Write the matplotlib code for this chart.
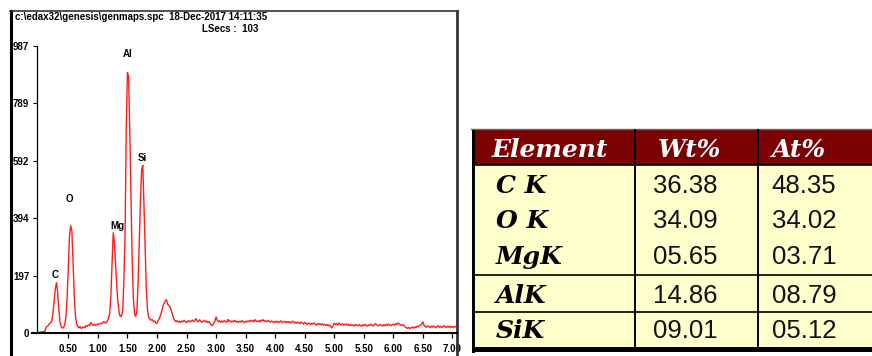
import numpy as np
import matplotlib
matplotlib.use("Agg")
import matplotlib.pyplot as plt
from matplotlib.patches import Rectangle
from matplotlib.lines import Line2D

# ---------------------------------------------------------------- data
# EDS spectrum, counts per 0.02 keV channel starting at 0 keV
channel_width_kev = 0.02
counts = [
    3, 4, 4, 5, 5, 6, 18, 24, 27, 33,
    36, 42, 70, 110, 152, 175, 138, 76, 40, 22,
    18, 20, 30, 58, 125, 230, 335, 370, 350, 245,
    130, 60, 32, 24, 18, 24, 16, 20, 22, 19,
    26, 24, 28, 27, 38, 30, 28, 31, 27, 30,
    32, 31, 34, 33, 36, 40, 37, 36, 42, 52,
    68, 130, 235, 346, 310, 232, 160, 105, 70, 57,
    60, 75, 180, 340, 700, 895, 880, 690, 470, 260,
    120, 68, 57, 75, 170, 310, 450, 560, 577, 440,
    290, 150, 80, 55, 50, 45, 47, 40, 42, 36,
    34, 44, 50, 62, 75, 92, 103, 110, 116, 100,
    96, 90, 80, 66, 52, 44, 40, 43, 38, 41,
    37, 42, 39, 45, 40, 36, 41, 44, 38, 42,
    46, 40, 44, 51, 43, 39, 47, 42, 38, 41,
    44, 39, 42, 37, 40, 34, 28, 26, 35, 41,
    57, 45, 40, 43, 38, 42, 39, 44, 40, 37,
    48, 41, 43, 38, 42, 40, 45, 39, 41, 37,
    42, 38, 44, 40, 36, 41, 39, 43, 40, 44,
    41, 45, 39, 47, 42, 40, 44, 38, 46, 42,
    47, 40, 43, 39, 44, 41, 38, 42, 40, 37,
    41, 38, 42, 36, 40, 43, 37, 39, 41, 36,
    40, 37, 41, 35, 39, 42, 36, 38, 34, 39,
    36, 33, 38, 35, 32, 37, 34, 31, 35, 33,
    30, 34, 32, 36, 31, 28, 33, 30, 34, 29,
    32, 28, 31, 27, 30, 25, 29, 24, 18, 26,
    35, 30, 33, 28, 36, 31, 29, 33, 27, 30,
    32, 28, 31, 26, 30, 27, 29, 25, 30, 28,
    26, 30, 27, 24, 29, 26, 31, 27, 25, 29,
    27, 31, 28, 25, 30, 33, 29, 27, 26, 30,
    28, 25, 29, 26, 30, 27, 32, 28, 26, 29,
    31, 28, 33, 30, 36, 32, 29, 27, 30, 26,
    22, 19, 17, 20, 16, 19, 21, 18, 22, 20,
    24, 22, 26, 28, 31, 40, 27, 24, 21, 25,
    23, 20, 24, 21, 25, 22, 19, 23, 26, 21,
    24, 20, 23, 26, 22, 19, 25, 21, 24, 20,
    23, 19, 24, 22,
]

full_scale = 987
y_tick_labels = ["0", "197", "394", "592", "789", "987"]
x_ticks = [0.5, 1.0, 1.5, 2.0, 2.5, 3.0, 3.5, 4.0, 4.5, 5.0, 5.5, 6.0, 6.5, 7.0]
x_tick_labels = ["0.50", "1.00", "1.50", "2.00", "2.50", "3.00", "3.50",
                 "4.00", "4.50", "5.00", "5.50", "6.00", "6.50", "7.00"]

peak_names = ["C", "O", "Mg", "Al", "Si"]

file_label = "c:\\edax32\\genesis\\genmaps.spc  18-Dec-2017 14:11:35"
live_secs = 103

table_elements = ["C K", "O K", "MgK", "AlK", "SiK"]
table_wt = [36.38, 34.09, 5.65, 14.86, 9.01]
table_at = [48.35, 34.02, 3.71, 8.79, 5.12]
table_headers = ["Element", "Wt%", "At%"]

# ---------------------------------------------------------------- figure
W, H = 872, 356
DPI = 100
fig = plt.figure(figsize=(W / DPI, H / DPI), dpi=DPI)
fig.patch.set_facecolor("white")

SANS = "Liberation Sans"
SERIF = "DejaVu Serif"


def fx(px):
    return px / W


def fy(py):
    return 1 - py / H


# spectrum axes in pixel placement
ax_l, ax_r, ax_t, ax_b = 37, 456, 45.5, 333.3
ax = fig.add_axes([fx(ax_l), fy(ax_b), fx(ax_r - ax_l), (ax_b - ax_t) / H])
px_per_kev = 59.08
e0_px = 38.8
ax.set_xlim((ax_l - e0_px) / px_per_kev, (ax_r - e0_px) / px_per_kev)
ax.set_ylim(0, full_scale)

energy = np.arange(len(counts)) * channel_width_kev
ax.plot(energy, counts, color="#ff1c1c", lw=1.0, solid_joinstyle="miter")

for s in ("top", "right", "bottom"):
    ax.spines[s].set_visible(False)
ax.spines["left"].set_linewidth(0.9)
ax.spines["left"].set_color("black")

ax.set_yticks([full_scale * k / 5 for k in range(6)])
ax.set_yticklabels(y_tick_labels)
ax.set_xticks(x_ticks)
ax.set_xticklabels(x_tick_labels)
ax.tick_params(axis="y", direction="out", length=3.0, width=0.8, pad=2.5,
               labelsize=7)
ax.tick_params(axis="x", direction="out", length=3.6, width=0.9, pad=4.4,
               labelsize=7)
for lab in ax.get_xticklabels() + ax.get_yticklabels():
    lab.set_fontfamily(SANS)
    lab.set_fontweight("bold")
ax.patch.set_visible(False)

# peak markers
label_spots = {"C": (0.274, 200), "O": (0.516, 461), "Mg": (1.325, 369),
               "Al": (1.51, 958), "Si": (1.76, 601)}
for name in peak_names:
    ex, cy = label_spots[name]
    ax.text(ex, cy, name, ha="center", va="center", fontsize=7,
            fontweight="bold", family=SANS, color="black")

# overlay in pixel coordinates for frame, header text and the table
ov = fig.add_axes([0, 0, 1, 1])
ov.set_xlim(0, W)
ov.set_ylim(H, 0)
ov.axis("off")
ov.patch.set_visible(False)

# panel frame
ov.add_line(Line2D([11, 11], [10.5, H + 2], color="black", lw=2.2))
ov.add_line(Line2D([10, 458], [11.3, 11.3], color="#222222", lw=1.1))
ov.add_line(Line2D([457.3, 457.3], [10.5, H + 2], color="#333333", lw=2.0))
# horizontal energy axis
ov.add_line(Line2D([32, 457], [ax_b, ax_b], color="black", lw=1.5))

ov.text(14.5, 19.5, file_label, ha="left", va="baseline", fontsize=7,
        fontweight="bold", family=SANS)
ov.text(202, 32.5, f"LSecs :  {live_secs}", ha="left", va="baseline",
        fontsize=7, fontweight="bold", family=SANS)

# ---------------------------------------------------------------- table
t_left, t_right = 475, W + 2
t_top, head_bot, body_bot = 130, 165, 347
row_mid = [183.5, 218.5, 255, 293.5, 328.5]
col_sep = [635, 758]
row_rules = [275, 312.3]

ov.add_patch(Rectangle((t_left, t_top), t_right - t_left, head_bot - t_top,
                       facecolor="#7b0000", edgecolor="none"))
ov.add_patch(Rectangle((t_left, head_bot), t_right - t_left,
                       body_bot - head_bot, facecolor="#ffffcc",
                       edgecolor="none"))
ov.add_line(Line2D([471, t_right], [129.3, 129.3], color="#666666", lw=1.0))
ov.add_patch(Rectangle((471.5, 129), 3.5, 223.5, facecolor="black",
                       edgecolor="none"))
ov.add_patch(Rectangle((471.5, body_bot), t_right - 471.5, 5,
                       facecolor="black", edgecolor="none"))
ov.add_line(Line2D([t_left, t_right], [head_bot, head_bot], color="black",
                   lw=1.2))
for xs in col_sep:
    ov.add_line(Line2D([xs, xs], [t_top, body_bot], color="black", lw=1.4))
for yr in row_rules:
    ov.add_line(Line2D([t_left, t_right], [yr, yr], color="black", lw=1.2))

head_x = [491.5, 658, 772]
for hx, txt in zip(head_x, table_headers):
    ov.text(hx, 157, txt, ha="left", va="baseline", fontsize=18,
            family=SERIF, fontweight="bold", fontstyle="italic",
            color="white")

for ym, el, w, a in zip(row_mid, table_elements, table_wt, table_at):
    base = ym + 9.2
    ov.text(496, base, el, ha="left", va="baseline", fontsize=18,
            family=SERIF, fontweight="bold", fontstyle="italic",
            color="black")
    ov.text(652.5, base, f"{w:05.2f}", ha="left", va="baseline",
            fontsize=18.5, family=SANS, color="#111111")
    ov.text(771.5, base, f"{a:05.2f}", ha="left", va="baseline",
            fontsize=18.5, family=SANS, color="#111111")

fig.savefig("out.png", dpi=DPI, facecolor="white")
